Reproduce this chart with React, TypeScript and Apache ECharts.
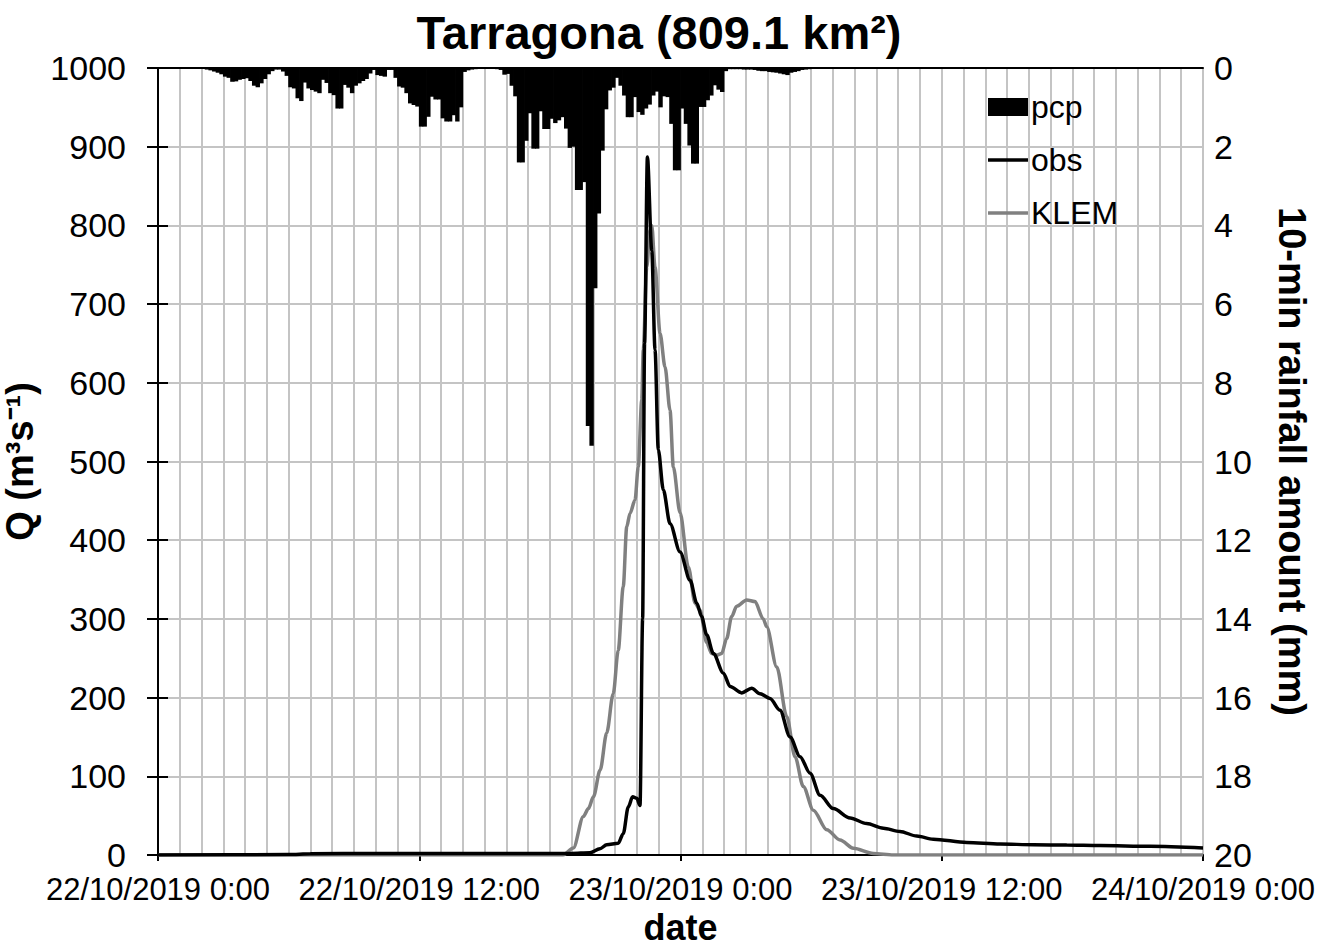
import React, { useEffect, useRef } from "react";
import * as echarts from "echarts";

// ---- data ----
const titleText = "Tarragona (809.1 km²)";
const xTickLabels = [
  "22/10/2019 0:00",
  "22/10/2019 12:00",
  "23/10/2019 0:00",
  "23/10/2019 12:00",
  "24/10/2019 0:00",
];

// 10-min rainfall (mm), 6 values per hour, from 22/10/2019 0:00
const pcp: number[] = [
  0, 0, 0, 0, 0, 0, // h0
  0, 0, 0, 0, 0, 0.01, // h1
  0.02, 0.04, 0.06, 0.09, 0.12, 0.16, // h2
  0.22, 0.25, 0.35, 0.34, 0.3, 0.28, // h3
  0.26, 0.33, 0.45, 0.49, 0.39, 0.28, // h4
  0.16, 0.08, 0.04, 0.04, 0.09, 0.2, // h5
  0.49, 0.52, 0.77, 0.84, 0.37, 0.52, // h6
  0.56, 0.6, 0.64, 0.3, 0.38, 0.64, // h7
  0.69, 1.03, 1.03, 0.43, 0.5, 0.64, // h8
  0.45, 0.39, 0.33, 0.28, 0.14, 0.05, // h9
  0.18, 0.2, 0.22, 0.05, 0.05, 0.25, // h10
  0.47, 0.5, 0.64, 0.9, 0.94, 0.98, // h11
  1.49, 1.49, 1.24, 0.73, 0.8, 0.8, // h12
  1.28, 1.36, 1.36, 1.2, 1.36, 1.0, // h13
  0.1, 0.06, 0.04, 0.03, 0.02, 0.02, // h14
  0.02, 0.02, 0.02, 0.03, 0.05, 0.17, // h15
  0.15, 0.45, 0.72, 2.4, 2.4, 1.85, // h16
  1.15, 2.05, 2.05, 1.1, 1.55, 1.55, // h17
  1.29, 1.4, 1.33, 1.25, 1.54, 2.03, // h18
  2.0, 3.1, 3.1, 2.9, 9.1, 9.6, // h19
  5.6, 3.7, 2.1, 1.05, 0.57, 0.5, // h20
  0.25, 0.45, 0.7, 1.25, 1.25, 0.74, // h21
  1.12, 1.19, 1.03, 0.93, 0.7, 0.6, // h22
  1.0, 0.72, 0.74, 1.42, 2.6, 2.6, // h23
  1.03, 1.42, 1.97, 2.43, 2.43, 0.99, // h24
  0.99, 0.82, 0.7, 0.44, 0.55, 0.61, // h25
  0.08, 0.03, 0.03, 0.03, 0.03, 0.04, // h26
  0.04, 0.04, 0.05, 0.07, 0.08, 0.08, // h27
  0.1, 0.11, 0.12, 0.14, 0.16, 0.18, // h28
  0.12, 0.1, 0.08, 0.05, 0.04, 0.03, // h29
  0.01, 0.01, 0.01, 0.01, 0.01, 0.01, // h30
  0, 0, 0, 0, 0, 0, // h31
  0, 0, 0, 0, 0, 0, // h32
  0, 0, 0, 0, 0, 0, // h33
  0, 0, 0, 0, 0, 0, // h34
  0, 0, 0, 0, 0, 0, // h35
  0, 0, 0, 0, 0, 0, // h36
  0, 0, 0, 0, 0, 0, // h37
  0, 0, 0, 0, 0, 0, // h38
  0, 0, 0, 0, 0, 0, // h39
  0, 0, 0, 0, 0, 0, // h40
  0, 0, 0, 0, 0, 0, // h41
  0, 0, 0, 0, 0, 0, // h42
  0, 0, 0, 0, 0, 0, // h43
  0, 0, 0, 0, 0, 0, // h44
  0, 0, 0, 0, 0, 0, // h45
  0, 0, 0, 0, 0, 0, // h46
  0, 0, 0, 0, 0, 0, // h47
];

// observed discharge (hours since start, m3/s)
const obsHours = [
  0, 6, 7, 10, 14, 18, 19, 19.84, 20.3, 20.61, 21.14, 21.37, 21.6, 21.8, 21.99,
  22.14, 22.26, 22.35, 22.48, 22.68, 22.83, 22.98, 23.21, 23.52, 23.98, 24.44,
  24.75, 24.97, 25.2, 25.51, 25.97, 26.28, 26.81, 27.27, 27.65, 28.11, 28.57,
  29.03, 29.49, 29.95, 30.41, 31.02, 31.79, 32.55, 33.32, 34.08, 34.85, 35.61,
  37.15, 38.68, 40.21, 41.74, 43.27, 45.57, 48,
];
const obsQ = [
  0, 0.5, 1.5, 2, 2, 2, 2, 3, 8, 13, 15, 27, 61, 74, 72,
  63, 300, 650, 887, 768, 642, 515, 464, 421, 385, 349,
  320, 303, 280, 256, 231, 214, 206, 212, 205, 199, 184,
  150, 125, 104, 76, 59, 47, 40, 34, 30, 24, 20,
  16, 14, 13, 12.7, 12, 11, 9,
];

// KLEM simulated discharge (hours since start, m3/s)
const klemHours = [
  0, 10, 18.6, 19.08, 19.54, 19.77, 20.0, 20.31, 20.61, 20.91, 21.14, 21.37,
  21.53, 21.68, 21.91, 22.06, 22.22, 22.29, 22.45, 22.6, 22.68, 22.83, 23.06,
  23.29, 23.52, 23.67, 23.98, 24.36, 24.67, 24.9, 25.2, 25.43, 25.66, 25.89,
  26.12, 26.35, 26.58, 27.04, 27.42, 27.8, 27.96, 28.42, 28.88, 29.26, 29.64,
  30.1, 30.72, 31.33, 31.94, 32.86, 33.78, 40, 48,
];
const klemQ = [
  0, 0, 0, 9, 49, 59, 74, 108, 155, 205, 260, 341,
  417, 434, 451, 493, 578, 642, 747, 794, 800, 747, 663,
  620, 565, 493, 435, 366, 320, 311, 270, 256, 254, 256,
  275, 303, 316, 324, 322, 300, 290, 239, 176, 125, 87,
  57, 32, 19, 8.5, 2, 0, 0, 0,
];

const FONT = "'Liberation Sans', Arial, sans-serif";
const LINE_ICON = "path://M0,0 L40,0 L40,3.5 L0,3.5 Z";

export default function App() {
  const ref = useRef<HTMLDivElement>(null);

  useEffect(() => {
    if (!ref.current) return;
    const chart = echarts.init(ref.current, undefined, { renderer: "svg" });

    const pcpData = pcp.map((v, i) => [(i + 0.5) / 6, v]);
    const obsData = obsHours.map((h, i) => [h, obsQ[i]]);
    const klemData = klemHours.map((h, i) => [h, klemQ[i]]);

    const gridColor = "#c4c4c4";

    chart.setOption({
      animation: false,
      backgroundColor: "#ffffff",
      textStyle: { fontFamily: FONT, color: "#000" },
      title: {
        text: titleText,
        left: "center",
        top: 4,
        textStyle: { fontFamily: FONT, fontSize: 47, fontWeight: "bold", color: "#000" },
      },
      grid: {
        left: 158,
        right: 115,
        top: 68,
        bottom: 94,
        containLabel: false,
        outerBoundsMode: "none",
      },
      legend: {
        orient: "vertical",
        left: 983,
        top: 86,
        itemWidth: 40,
        itemHeight: 18,
        itemGap: 21,
        itemStyle: { borderWidth: 0 },
        textStyle: { fontFamily: FONT, fontSize: 32, color: "#000", padding: [0, 0, 0, -2] },
        data: [
          { name: "pcp", icon: "rect" },
          { name: "obs", icon: LINE_ICON },
          { name: "KLEM", icon: LINE_ICON },
        ],
      },
      xAxis: [
        {
          type: "value",
          min: 0,
          max: 48,
          interval: 12,
          position: "bottom",
          name: "date",
          nameLocation: "middle",
          nameGap: 54,
          nameTextStyle: { fontFamily: FONT, fontSize: 36, fontWeight: "bold", color: "#000" },
          axisLine: { show: true, onZero: false, lineStyle: { color: "#000", width: 2 } },
          axisTick: { show: true, inside: false, length: 6, lineStyle: { color: "#000", width: 2 } },
          axisLabel: {
            fontFamily: FONT,
            fontSize: 31,
            color: "#000",
            margin: 19,
            showMinLabel: true,
            showMaxLabel: true,
            formatter: (v: number) => xTickLabels[Math.round(v / 12)] ?? "",
          },
          splitLine: { show: true, lineStyle: { color: gridColor, width: 2 } },
          minorTick: { show: false, splitNumber: 12 },
          minorSplitLine: { show: true, lineStyle: { color: gridColor, width: 2 } },
        },
        {
          type: "value",
          min: 0,
          max: 48,
          position: "top",
          axisLine: { show: true, onZero: false, lineStyle: { color: "#000", width: 2 } },
          axisTick: { show: false },
          axisLabel: { show: false },
          splitLine: { show: false },
        },
      ],
      yAxis: [
        {
          type: "value",
          min: 0,
          max: 1000,
          interval: 100,
          position: "left",
          name: "Q (m³s⁻¹)",
          nameLocation: "middle",
          nameGap: 104,
          nameTextStyle: { fontFamily: FONT, fontSize: 38, fontWeight: "bold", color: "#000" },
          axisLine: { show: true, lineStyle: { color: "#000", width: 2 } },
          axisTick: { show: true, inside: false, length: 11, lineStyle: { color: "#000", width: 2 } },
          axisLabel: {
            fontFamily: FONT,
            fontSize: 34,
            color: "#000",
            margin: 32,
            formatter: (v: number) => String(v),
          },
          splitLine: { show: true, lineStyle: { color: gridColor, width: 2 } },
        },
        {
          type: "value",
          min: 0,
          max: 20,
          interval: 2,
          inverse: true,
          position: "right",
          name: "10-min rainfall amount (mm)",
          nameLocation: "middle",
          nameRotate: -90,
          nameGap: 70,
          nameTextStyle: { fontFamily: FONT, fontSize: 38, fontWeight: "bold", color: "#000" },
          axisLine: { show: true, lineStyle: { color: "#000", width: 2 } },
          axisTick: { show: true, inside: false, length: 10, lineStyle: { color: "#000", width: 2 } },
          axisLabel: { fontFamily: FONT, fontSize: 34, color: "#000", margin: 11 },
          splitLine: { show: false },
        },
      ],
      series: [
        {
          name: "pcp",
          type: "bar",
          xAxisIndex: 1,
          yAxisIndex: 1,
          data: pcpData,
          barWidth: 4.4,
          itemStyle: { color: "#000" },
          z: 1,
        },
        {
          name: "obs",
          type: "line",
          xAxisIndex: 0,
          yAxisIndex: 0,
          data: obsData,
          symbol: "none",
          smooth: 0.3,
          smoothMonotone: "x",
          lineStyle: { color: "#000", width: 3.5 },
          itemStyle: { color: "#000" },
          z: 3,
        },
        {
          name: "KLEM",
          type: "line",
          xAxisIndex: 0,
          yAxisIndex: 0,
          data: klemData,
          symbol: "none",
          smooth: 0.3,
          smoothMonotone: "x",
          lineStyle: { color: "#808080", width: 3.5 },
          itemStyle: { color: "#808080" },
          z: 2,
        },
      ],
    });

    return () => {
      chart.dispose();
    };
  }, []);

  return (
    <div
      ref={ref}
      style={{ position: "fixed", left: 0, top: 0, width: 1318, height: 949, background: "#fff" }}
    />
  );
}
